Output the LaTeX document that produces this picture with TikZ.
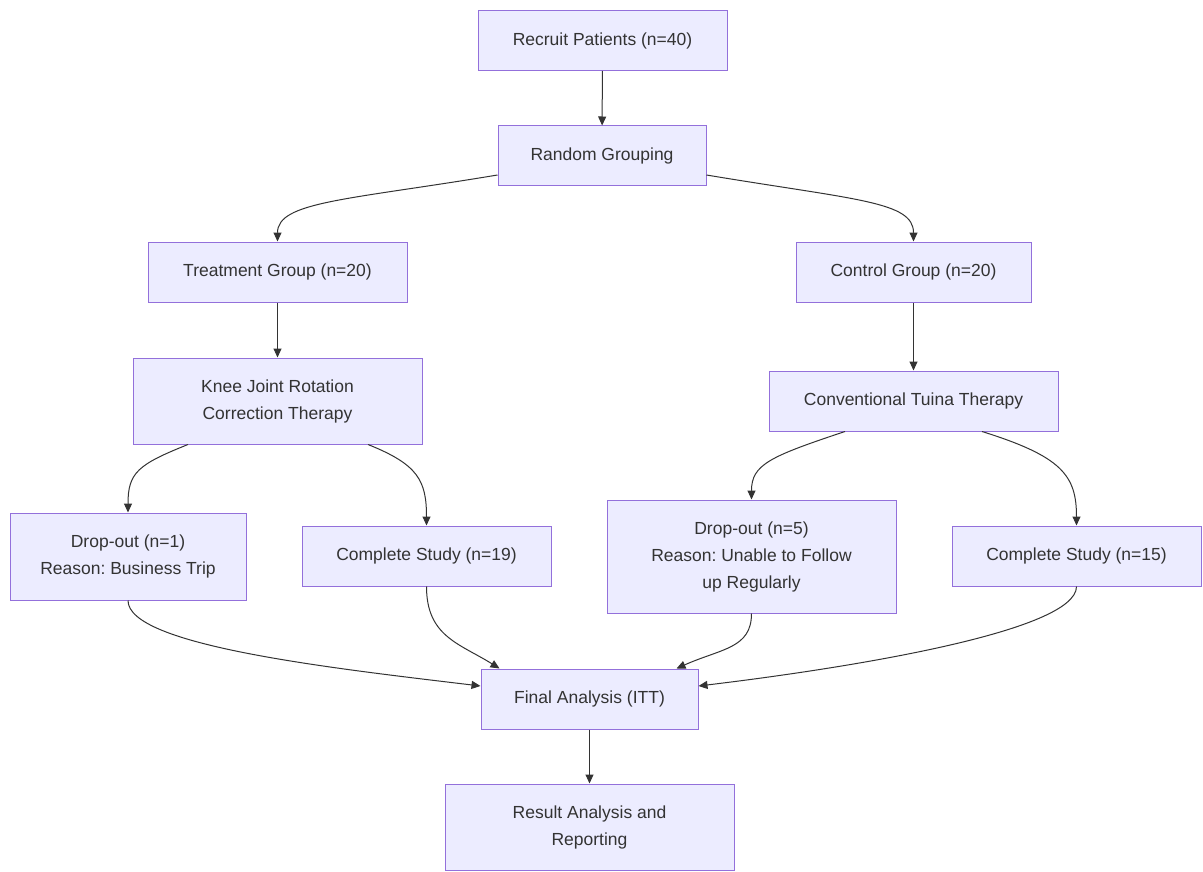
\documentclass[tikz,border=0pt]{standalone}
\usepackage{fontspec}
\setmainfont{Liberation Sans}
\usetikzlibrary{arrows.meta}
\frenchspacing

\definecolor{boxfill}{HTML}{ECECFF}
\definecolor{boxline}{HTML}{9370DB}
\definecolor{ink}{HTML}{333333}

\tikzset{
  box/.style={draw=boxline, fill=boxfill, line width=1pt, text=ink, align=center,
    inner sep=0pt, minimum height=60pt, font=\fontsize{17.5}{27}\selectfont},
  flow/.style={draw=ink, line width=1pt, -{Triangle[length=9pt,width=8pt]}},
}

\begin{document}
\begin{tikzpicture}[x=1pt,y=-1pt]
\fill[white] (0,0) rectangle (1203,872);
\useasboundingbox (0,0) rectangle (1203,872);

% top
\node[box, minimum width=249pt] (recruit) at (602.5,40.5) {Recruit Patients (n=40)};
\node[box, minimum width=208pt] (rand) at (602,156) {Random Grouping};

% two arms
\node[box, minimum width=259pt] (treat) at (277.5,272) {Treatment Group (n=20)};
\node[box, minimum width=235pt] (ctrl) at (913.5,272) {Control Group (n=20)};
\node[box, minimum width=289pt, minimum height=86pt] (knee) at (277.5,401) {Knee Joint Rotation\\Correction Therapy};
\node[box, minimum width=289pt] (tuina) at (913.5,401) {Conventional Tuina Therapy};

% outcomes
\node[box, minimum width=236pt, minimum height=87pt] (dropA) at (128,556.5) {Drop-out (n=1)\\Reason: Business Trip};
\node[box, minimum width=249pt] (doneA) at (426.5,556) {Complete Study (n=19)};
\node[box, minimum width=289pt, minimum height=113pt] (dropB) at (751.5,556.5) {Drop-out (n=5)\\Reason: Unable to Follow\\up Regularly};
\node[box, minimum width=249pt] (doneB) at (1076.5,556) {Complete Study (n=15)};

% analysis
\node[box, minimum width=217pt] (final) at (589.5,699) {Final Analysis (ITT)};
\node[box, minimum width=289pt, minimum height=86pt] (report) at (589.5,827) {Result Analysis and\\Reporting};

\draw[flow] (recruit) -- (rand);
\draw[flow] ([yshift=-19pt]rand.west) .. controls +(-150,25) and +(0,-40) .. (treat.north);
\draw[flow] ([yshift=-19pt]rand.east) .. controls +(150,25) and +(0,-40) .. (ctrl.north);
\draw[flow] (treat) -- (knee);
\draw[flow] (ctrl) -- (tuina);

\draw[flow] ([xshift=-89.5pt]knee.south) .. controls +(-50,20) and +(0,-40) .. (dropA.north);
\draw[flow] ([xshift=90.5pt]knee.south) .. controls +(50,20) and +(0,-45) .. (doneA.north);
\draw[flow] ([xshift=-68.5pt]tuina.south) .. controls +(-75,25) and +(0,-35) .. (dropB.north);
\draw[flow] ([xshift=68.5pt]tuina.south) .. controls +(80,25) and +(0,-50) .. (doneB.north);

\draw[flow] (dropA.south) .. controls +(0,45) and +(-150,-18) .. ([yshift=13pt]final.west);
\draw[flow] (doneA.south) .. controls +(0,50) and +(-40,-25) .. ([xshift=19pt]final.north west);
\draw[flow] (dropB.south) .. controls +(0,35) and +(45,-20) .. ([xshift=-22pt]final.north east);
\draw[flow] (doneB.south) .. controls +(0,45) and +(150,-18) .. ([yshift=13pt]final.east);

\draw[flow] (final) -- (report);
\end{tikzpicture}
\end{document}
